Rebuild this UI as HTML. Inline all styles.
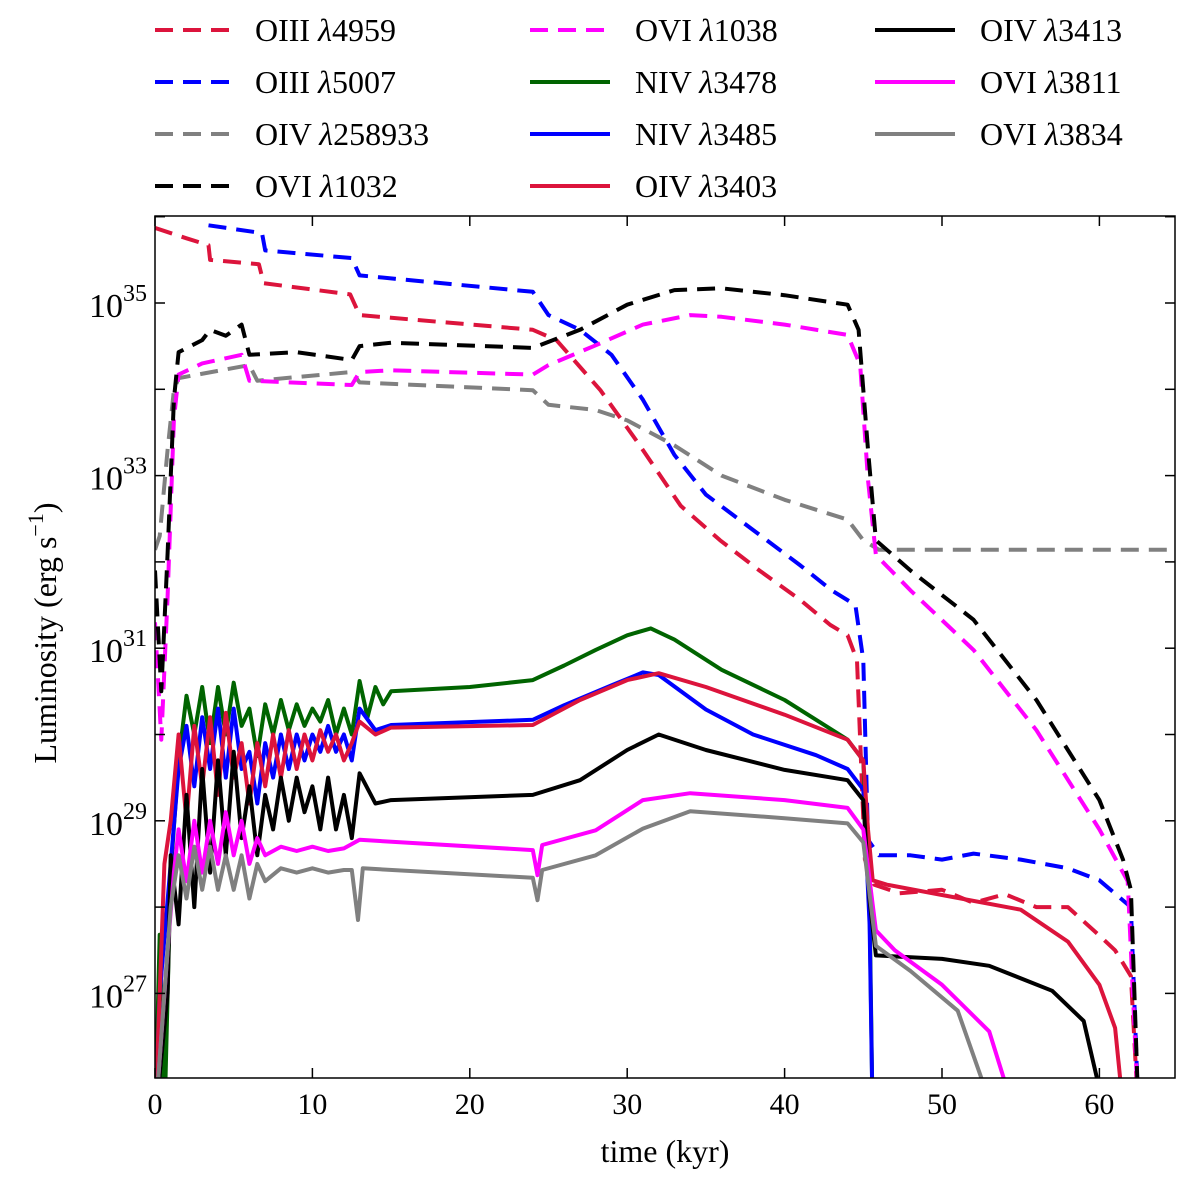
<!DOCTYPE html>
<html><head><meta charset="utf-8"><style>
body{margin:0;background:#fff;}
svg{display:block;font-family:"Liberation Serif",serif;}
</style></head><body>
<svg id="chart" width="1200" height="1177" viewBox="0 0 1200 1177" xmlns="http://www.w3.org/2000/svg">
<defs><clipPath id="clip"><rect x="155" y="216" width="1020" height="862"/></clipPath></defs>
<g id="series" clip-path="url(#clip)"></g>
<rect x="155" y="216" width="1020" height="862" fill="none" stroke="#000" stroke-width="1.5"/>
<g id="axes"></g>
<text x="665" y="1162" font-size="32" text-anchor="middle">time (kyr)</text>
<text transform="translate(56,633) rotate(-90)" font-size="32" text-anchor="middle">Luminosity (erg s<tspan dy="-13" font-size="22">−1</tspan><tspan dy="13">)</tspan></text>
<g id="legend"></g>
</svg>
<script>
const xTicks=[0,10,20,30,40,50,60];
const yTicks=[27,29,31,33,35];
const names=[["OIII","4959"],["OIII","5007"],["OIV","258933"],["OVI","1032"],["OVI","1038"],["NIV","3478"],["NIV","3485"],["OIV","3403"],["OIV","3413"],["OVI","3811"],["OVI","3834"]];
const t_oiii4959=[0,2,3.4,3.5,6.6,6.9,12.4,13,24,25.5,28.3,30.8,33.4,35.9,38.4,41,42.9,44,44.6,45.1,45.7,47.3,50,52,54,56,58,60,61,62,62.5];
const v_oiii4959=[35.87,35.75,35.67,35.5,35.45,35.23,35.1,34.86,34.69,34.57,33.99,33.35,32.65,32.25,31.9,31.56,31.27,31.15,30.86,28.55,28.26,28.16,28.2,28.05,28.15,28.0,28.0,27.67,27.5,27.2,25.5];
const t_oiii5007=[3.4,6.8,7,12.5,13,24,25,27,29,31,33,35,38,41,43,44.5,45,45.3,46,48,50,52,55,58,60,62,62.5];
const v_oiii5007=[35.9,35.81,35.61,35.52,35.32,35.13,34.86,34.69,34.4,33.88,33.24,32.78,32.37,31.96,31.67,31.5,30.86,28.78,28.6,28.6,28.55,28.62,28.55,28.45,28.31,28.0,25.5];
const t_oiv258=[0,0.3,0.8,1.2,1.5,6,6.5,12.5,13,24,25,28,30,33,36,40,44,45,46,65];
const v_oiv258=[32.14,32.3,33.3,33.99,34.13,34.28,34.1,34.2,34.08,33.99,33.82,33.76,33.64,33.35,33.0,32.72,32.49,32.25,32.14,32.14];
const t_ovi1032=[0,0.4,0.8,1.2,1.5,3,3.5,4.5,5.5,6,9,12.5,13,15,24,27,30,33,36,40,44,44.7,45.3,45.8,48,52,56,60,61.5,62,62.5];
const v_ovi1032=[31.9,30.5,32.1,33.88,34.43,34.57,34.69,34.62,34.75,34.4,34.43,34.34,34.5,34.54,34.48,34.69,34.98,35.15,35.17,35.09,34.98,34.69,33.3,32.25,31.9,31.33,30.4,29.24,28.55,28.2,25.5];
const t_ovi1038=[0,0.4,0.8,1.2,1.5,3,5.5,6,12.5,13,15,24,25,28,31,34,36,40,44,44.8,45.3,45.8,48,52,56,60,61.8,62.5];
const v_ovi1038=[31.3,29.94,31.6,33.65,34.17,34.3,34.4,34.1,34.05,34.2,34.22,34.17,34.28,34.51,34.75,34.86,34.84,34.75,34.63,34.28,32.95,32.08,31.67,30.98,30.05,28.9,28.3,25.5];
const t_niv3478=[0,0.3,0.6,1,1.5,2,2.5,3,3.5,4,4.5,5,5.5,6,6.5,7,7.5,8,8.5,9,9.5,10,10.5,11,11.5,12,12.5,13,13.5,14,14.5,15,20,24,26,28,30,31.5,33,36,40,42,44,45,45.4,45.6];
const v_niv3478=[25.5,27.68,25.5,28.4,29.7,30.45,30.0,30.55,29.9,30.55,30.0,30.6,30.1,30.3,29.75,30.35,30.0,30.4,30.05,30.35,30.1,30.3,30.15,30.4,30.0,30.3,30.0,30.62,30.2,30.55,30.35,30.5,30.55,30.63,30.8,30.98,31.15,31.23,31.1,30.75,30.4,30.17,29.94,29.7,28.0,25.5];
const t_niv3485=[0,0.3,1,1.5,2,2.5,3,3.5,4,4.5,5,5.5,6,6.5,7,7.5,8,8.5,9,9.5,10,10.5,11,11.5,12,12.5,13,14,15,24,26,29,31,32,35,38,42,44,45,45.4,45.6];
const v_niv3485=[25.5,27.0,28.5,29.6,30.1,29.4,30.2,29.6,30.3,29.5,30.3,29.6,29.8,29.2,29.9,29.5,30.0,29.6,30.0,29.7,30.0,29.8,30.1,29.8,30.0,29.7,30.3,30.05,30.11,30.17,30.34,30.57,30.72,30.69,30.29,30.0,29.76,29.6,29.36,27.8,25.5];
const t_oiv3403=[0,0.6,1,1.5,2,2.5,3,3.5,4,4.5,5,5.5,6,6.5,7,7.5,8,8.5,9,9.5,10,10.5,11,11.5,12,12.5,13,14,15,24,27,30,32,35,40,44,45,45.3,45.6,46.5,50,55,58,60,61,61.6];
const v_oiv3403=[25.5,28.5,29.0,30.0,29.0,30.1,29.4,30.2,29.3,30.25,29.5,29.9,29.2,29.9,29.4,30.0,29.5,30.05,29.6,30.0,29.7,30.05,29.8,30.0,29.7,29.9,30.15,30.0,30.08,30.11,30.4,30.63,30.71,30.55,30.23,29.94,29.7,28.9,28.31,28.26,28.14,27.97,27.6,27.1,26.6,25.5];
const t_oiv3413=[0,0.8,1,1.5,2,2.5,3,3.5,4,4.5,5,5.5,6,6.5,7,7.5,8,8.5,9,9.5,10,10.5,11,11.5,12,12.5,13,14,15,24,27,30,32,35,40,44,45,45.4,45.8,50,53,57,59,60.5];
const v_oiv3413=[25.5,27.0,28.6,27.8,29.3,28.0,29.6,28.4,29.7,28.6,29.8,28.8,29.4,28.6,29.3,28.9,29.5,29.0,29.5,29.1,29.4,28.9,29.5,28.9,29.3,28.8,29.55,29.2,29.24,29.3,29.47,29.82,30.0,29.82,29.59,29.47,29.24,28.08,27.44,27.4,27.32,27.03,26.68,25.5];
const t_ovi3811=[0,0.8,1.2,1.5,2,2.5,3,3.5,4,4.5,5,5.5,6,6.5,7,8,9,10,11,12,13,24,24.3,24.6,28,31,34,40,44,45,45.8,47,50,53,54.8];
const v_ovi3811=[25.5,27.5,28.4,28.9,28.3,29.0,28.4,29.0,28.5,29.1,28.6,29.0,28.5,28.8,28.6,28.7,28.65,28.7,28.65,28.68,28.78,28.66,28.37,28.72,28.89,29.24,29.32,29.24,29.15,28.9,27.73,27.5,27.1,26.56,25.5];
const t_ovi3834=[0,1,1.5,2,2.5,3,3.5,4,4.5,5,5.5,6,6.5,7,8,9,10,11,12,12.5,12.9,13.2,24,24.3,24.6,28,31,34,40,44,45,45.8,48,51,53.5];
const v_ovi3834=[25.5,28.0,28.6,28.1,28.7,28.2,28.7,28.2,28.6,28.2,28.6,28.1,28.5,28.3,28.45,28.4,28.45,28.4,28.43,28.43,27.85,28.45,28.34,28.08,28.43,28.6,28.91,29.11,29.03,28.97,28.75,27.55,27.26,26.8,25.5];

const X=t=>155+t*15.74, Y=l=>303-(l-35)*86.3;
const NS="http://www.w3.org/2000/svg";
function mk(tag,attrs,parent){const e=document.createElementNS(NS,tag);for(const k in attrs)e.setAttribute(k,attrs[k]);parent.appendChild(e);return e;}
const sg=document.getElementById('series');
const defs=[
 [t_oiv258,v_oiv258,'#808080',true],[t_oiii4959,v_oiii4959,'#dc143c',true],[t_oiii5007,v_oiii5007,'#0000ff',true],
 [t_ovi1038,v_ovi1038,'#ff00ff',true],[t_ovi1032,v_ovi1032,'#000000',true],
 [t_niv3478,v_niv3478,'#006400',false],[t_niv3485,v_niv3485,'#0000ff',false],[t_oiv3403,v_oiv3403,'#dc143c',false],
 [t_oiv3413,v_oiv3413,'#000000',false],[t_ovi3811,v_ovi3811,'#ff00ff',false],[t_ovi3834,v_ovi3834,'#808080',false]];
defs.forEach((d,i)=>{
 const p=mk('polyline',{points:d[0].map((t,j)=>X(t).toFixed(1)+','+Y(d[1][j]).toFixed(1)).join(' '),fill:'none',stroke:d[2],'stroke-width':4,'stroke-dasharray':d[3]?'18,10':'none','stroke-linejoin':'round'},sg);
 
 
});
const ax=document.getElementById('axes');
xTicks.forEach(t=>{
 [[1078,1068],[216,226]].forEach(yy=>{
 const l=mk('line',{x1:X(t),x2:X(t),y1:yy[0],y2:yy[1],stroke:'#000','stroke-width':1.5},ax);
 
 });
 const tx=mk('text',{x:X(t),y:1114,'font-size':30,'text-anchor':'middle'},ax);tx.textContent=t;
 
 
});
[27,28,29,30,31,32,33,34,35,36].forEach(v=>{
 [155,1175].forEach((x0,k)=>{const l=mk('line',{x1:x0,x2:x0+(k?-10:10),y1:Y(v),y2:Y(v),stroke:'#000','stroke-width':1.5},ax);
 
 });
});
yTicks.forEach(v=>{
 const tx=mk('text',{x:147,y:Y(v)+14,'font-size':34,'text-anchor':'end'},ax);
 tx.innerHTML='10<tspan dy="-16" font-size="24">'+v+'</tspan>';
 
 
});
const lg=document.getElementById('legend');
const leg=[[0,'#dc143c',true],[1,'#0000ff',true],[2,'#808080',true],[3,'#000000',true],[4,'#ff00ff',true],[5,'#006400',false],[6,'#0000ff',false],[7,'#dc143c',false],[8,'#000000',false],[9,'#ff00ff',false],[10,'#808080',false]];
const cols=[[155,255],[530,635],[875,980]];
leg.forEach((e,i)=>{
 const c=Math.floor(i/4),r=i%4,y=30+r*52;
 const g=mk('g',{},lg);
 
 
 mk('line',{x1:cols[c][0],x2:cols[c][0]+80,y1:y,y2:y,stroke:e[1],'stroke-width':4,'stroke-dasharray':e[2]?'18,10':'none'},g);
 const tx=mk('text',{x:cols[c][1],y:y+11,'font-size':32},g);
 tx.innerHTML=names[e[0]][0]+' <tspan font-style="italic">λ</tspan>'+names[e[0]][1];
});
</script>
</body></html>
